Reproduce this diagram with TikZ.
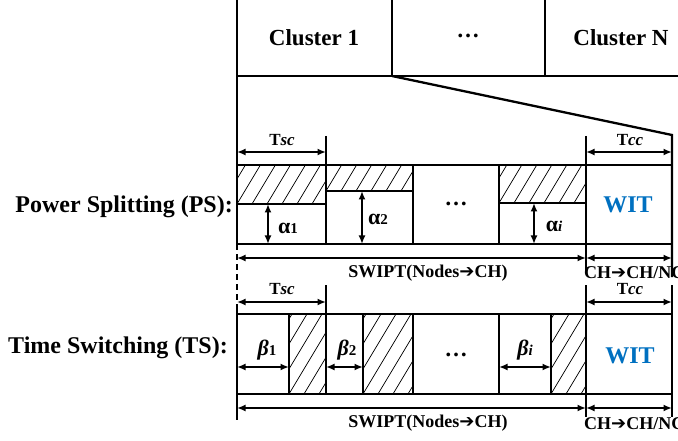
\documentclass[tikz,border=0pt]{standalone}
\usepackage{fontspec}
\setmainfont{Liberation Serif}
\newfontfamily\dejavu{DejaVu Sans}
\usetikzlibrary{arrows.meta}
\definecolor{witblue}{RGB}{0,112,192}
\tikzset{
  frame/.style={line width=2.3pt},
  dimarrow/.style={line width=1.8pt,{Latex[length=8.5pt,width=7pt]}-{Latex[length=8.5pt,width=7pt]}},
  hatchline/.style={line width=0.7pt},
  lbl/.style={font=\fontsize{23}{26}\selectfont\bfseries, inner sep=0pt},
  side/.style={font=\fontsize{24}{27}\selectfont\bfseries, inner sep=0pt},
  slab/.style={font=\fontsize{18}{20}\selectfont\bfseries, inner sep=0pt},
  tlab/.style={font=\fontsize{17}{19}\selectfont\bfseries, inner sep=0pt},
  glab/.style={font=\fontsize{22}{24}\selectfont\bfseries, inner sep=0pt},
  wit/.style={font=\fontsize{24}{26}\selectfont\bfseries, text=witblue, inner sep=0pt}
}
\newcommand\hatchbox[4]{%
  \begin{scope}
    \clip (#1,#2) rectangle (#3,#4);
    \pgfmathsetmacro\hatchH{#4-#2}
    \foreach \k in {-6,...,8}{\draw[hatchline] ({#1+\k*15},#4) -- ++({0.6*\hatchH},-\hatchH);}
  \end{scope}}
\newcommand\sm[1]{{\fontsize{15}{16}\selectfont #1}}
\begin{document}
\begin{tikzpicture}[x=1pt,y=-1pt]
\useasboundingbox (0,0) rectangle (678,441);
% cluster row
\draw[frame] (237,0) -- (237,244);
\draw[frame] (237,76) -- (690,76);
\draw[frame] (392,0) -- (392,76);
\draw[frame] (545,0) -- (545,76);
\node[lbl] (c1) at (314,38) {Cluster 1};
\node[lbl] (cd) at (468,36) {…};
\node[lbl] (cn) at (621,38) {Cluster N};
\coordinate (zl) at (392,76);
\coordinate (zr) at (672,135);
\coordinate (zb) at (672,277);
\draw[frame] (zl) -- (zr) -- (zb);
% ---------------- PS ----------------
\node[side,anchor=east] (ps) at (233,207) {Power Splitting (PS):};
\hatchbox{237}{165}{326}{204}
\hatchbox{326}{165}{413}{191}
\hatchbox{499}{165}{586}{203}
\draw[frame] (237,165) rectangle (672,244);
\draw[frame] (326,136) -- (326,244);
\draw[frame] (413,165) -- (413,244);
\draw[frame] (499,165) -- (499,244);
\draw[frame] (586,136) -- (586,272);
\draw[frame] (237,204) -- (326,204);
\draw[frame] (326,191) -- (413,191);
\draw[frame] (499,203) -- (586,203);
\node[tlab] (tsc1) at (282,140) {T\textit{sc}};
\draw[dimarrow] (237,152) -- (326,152);
\node[tlab] (tcc1) at (630,140) {T\textit{cc}};
\draw[dimarrow] (586,152) -- (672,152);
\draw[dimarrow] (268,204) -- (268,244);
\draw[dimarrow] (362,191) -- (362,244);
\draw[dimarrow] (534,203) -- (534,244);
\node[glab] (a1) at (288,228) {α\sm{1}};
\node[glab] (a2) at (378,219) {α\sm{2}};
\node[glab] (ai) at (554,226) {α\sm{\textit{i}}};
\node[lbl] (pd) at (456,204) {…};
\node[wit] (pw) at (628,205) {WIT};
\draw[dimarrow] (237,258) -- (586,258);
\draw[dimarrow] (586,258) -- (672,258);
\node[slab] (ps1) at (428,273) {SWIPT(Nodes{\dejavu ➔}CH)};
\node[slab,anchor=west] (ps2) at (584,273) {CH{\dejavu ➔}CH/NC};
% left dashed
\draw[frame,dash pattern=on 6pt off 4pt] (237,244) -- (237,307);
\draw[frame] (237,307) -- (237,420);
% ---------------- TS ----------------
\node[side,anchor=east] (ts) at (228,348) {Time Switching (TS):};
\hatchbox{289}{314}{326}{394}
\hatchbox{363}{314}{413}{394}
\hatchbox{551}{314}{586}{394}
\draw[frame] (237,314) rectangle (672,394);
\draw[frame] (289,314) -- (289,394);
\draw[frame] (326,285) -- (326,394);
\draw[frame] (363,314) -- (363,394);
\draw[frame] (413,314) -- (413,394);
\draw[frame] (499,314) -- (499,394);
\draw[frame] (551,314) -- (551,394);
\draw[frame] (586,285) -- (586,417);
\draw[frame] (672,285) -- (672,417);
\node[tlab] (tsc2) at (282,289) {T\textit{sc}};
\draw[dimarrow] (237,302) -- (326,302);
\node[tlab] (tcc2) at (630,289) {T\textit{cc}};
\draw[dimarrow] (586,302) -- (672,302);
\draw[dimarrow] (237,367) -- (289,367);
\draw[dimarrow] (326,367) -- (363,367);
\draw[dimarrow] (499,367) -- (551,367);
\node[glab] (b1) at (267,350) {\textit{β}\sm{1}};
\node[glab] (b2) at (347,350) {\textit{β}\sm{2}};
\node[glab] (bi) at (525,350) {\textit{β}\sm{\textit{i}}};
\node[lbl] (td) at (456,355) {…};
\node[wit] (tw) at (630,356) {WIT};
\draw[dimarrow] (237,408) -- (586,408);
\draw[dimarrow] (586,408) -- (672,408);
\node[slab] (ts1) at (428,423) {SWIPT(Nodes{\dejavu ➔}CH)};
\node[slab,anchor=west] (ts2) at (584,424) {CH{\dejavu ➔}CH/NC};
\end{tikzpicture}
\end{document}
